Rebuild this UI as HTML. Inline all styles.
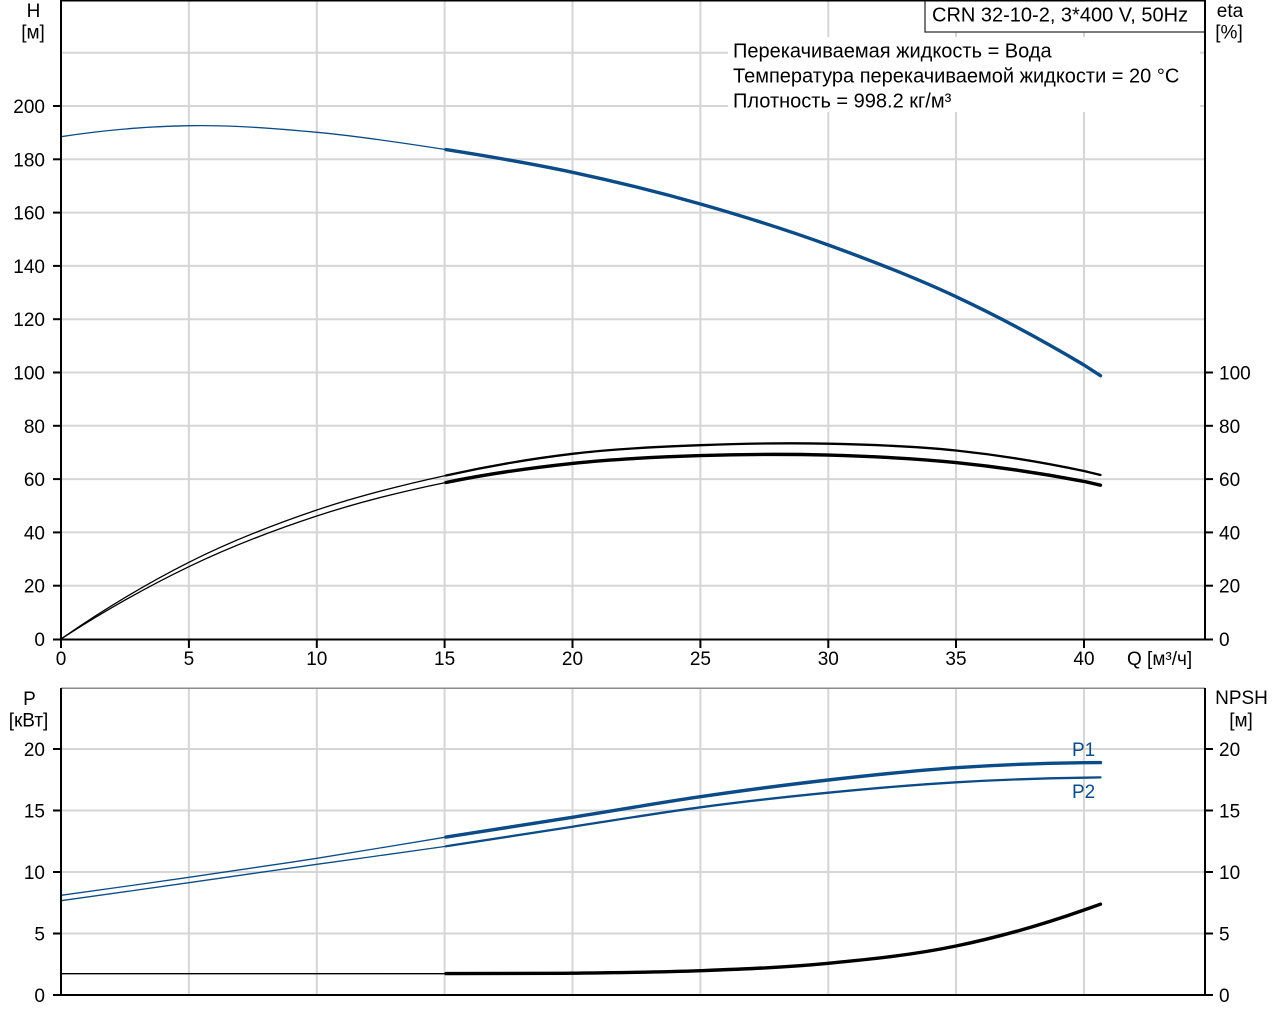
<!DOCTYPE html>
<html>
<head>
<meta charset="utf-8">
<style>
  html, body { margin: 0; padding: 0; background: #ffffff; }
  svg { display: block; }
  text { font-family: "Liberation Sans", Arial, sans-serif; fill: #000; }
</style>
</head>
<body>
<svg width="1280" height="1024" viewBox="0 0 1280 1024" xmlns="http://www.w3.org/2000/svg">
  <rect x="0" y="0" width="1280" height="1024" fill="#ffffff"/>

  <!-- ===== Gridlines top plot ===== -->
  <g stroke="#d6d6d6" stroke-width="2" fill="none">
    <line x1="61" y1="52.7" x2="1205" y2="52.7"/>
    <line x1="61" y1="106" x2="1205" y2="106"/>
    <line x1="61" y1="159.3" x2="1205" y2="159.3"/>
    <line x1="61" y1="212.6" x2="1205" y2="212.6"/>
    <line x1="61" y1="265.9" x2="1205" y2="265.9"/>
    <line x1="61" y1="319.2" x2="1205" y2="319.2"/>
    <line x1="61" y1="372.5" x2="1205" y2="372.5"/>
    <line x1="61" y1="425.8" x2="1205" y2="425.8"/>
    <line x1="61" y1="479.1" x2="1205" y2="479.1"/>
    <line x1="61" y1="532.4" x2="1205" y2="532.4"/>
    <line x1="61" y1="585.7" x2="1205" y2="585.7"/>

    <line x1="188.9" y1="0" x2="188.9" y2="639"/>
    <line x1="316.8" y1="0" x2="316.8" y2="639"/>
    <line x1="444.6" y1="0" x2="444.6" y2="639"/>
    <line x1="572.5" y1="0" x2="572.5" y2="639"/>
    <line x1="700.4" y1="0" x2="700.4" y2="639"/>
    <line x1="828.3" y1="0" x2="828.3" y2="639"/>
    <line x1="956" y1="0" x2="956" y2="639"/>
    <line x1="1084" y1="0" x2="1084" y2="639"/>
  </g>

  <!-- ===== Gridlines bottom plot ===== -->
  <g stroke="#d6d6d6" stroke-width="2" fill="none">
    <line x1="61" y1="749" x2="1205" y2="749"/>
    <line x1="61" y1="810.5" x2="1205" y2="810.5"/>
    <line x1="61" y1="872" x2="1205" y2="872"/>
    <line x1="61" y1="933.5" x2="1205" y2="933.5"/>

    <line x1="188.9" y1="688" x2="188.9" y2="995"/>
    <line x1="316.8" y1="688" x2="316.8" y2="995"/>
    <line x1="444.6" y1="688" x2="444.6" y2="995"/>
    <line x1="572.5" y1="688" x2="572.5" y2="995"/>
    <line x1="700.4" y1="688" x2="700.4" y2="995"/>
    <line x1="828.3" y1="688" x2="828.3" y2="995"/>
    <line x1="956" y1="688" x2="956" y2="995"/>
    <line x1="1084" y1="688" x2="1084" y2="995"/>
  </g>
  <line x1="61" y1="688.3" x2="1205" y2="688.3" stroke="#8a8a8a" stroke-width="1.5"/>

  <!-- ===== Info text background & title box ===== -->
  <rect x="728" y="37" width="472" height="75" fill="#ffffff"/>
  <rect x="925" y="-1" width="280" height="33" fill="#ffffff" stroke="#222" stroke-width="1.2"/>

  <!-- ===== Curves top plot ===== -->
  <g fill="none" stroke-linecap="round" stroke-linejoin="round">
    <!-- H -->
    <path d="M61,136.7 C103.6,130.1 146.3,126.4 188.9,125.7 C231.5,124.97 274.2,128.35 316.8,132.3 C359.4,136.25 402,142.73 444.6,149.4" stroke="#0b4c88" stroke-width="1.3"/>
    <path d="M446,149.6 C487.2,156.07 529.9,163.2 572.5,172.3 C615.1,181.4 657.8,191.88 700.4,204 C743,216.12 785.7,229.55 828.3,245 C870.9,260.45 913.4,276.7 956,296.7 C998.7,316.7 1041.3,339.47 1084,365 L1100.5,375.7" stroke="#0b4c88" stroke-width="3.4"/>

    <!-- eta pump (upper) -->
    <path d="M61,639 C103.6,609.37 146.3,583.8 188.9,562.3 C231.5,540.8 274.2,524.43 316.8,510 C359.4,495.57 402,485.07 444.6,475.7" stroke="#000" stroke-width="1.3"/>
    <path d="M446,475.5 C487.2,466.33 529.9,458.88 572.5,453.8 C615.1,448.72 657.8,446.88 700.4,445.2 C743,443.52 785.7,442.82 828.3,443.7 C870.9,444.58 913.4,445.95 956,450.5 C998.7,455.05 1041.3,461.88 1084,471 L1100.5,475" stroke="#000" stroke-width="2.3"/>

    <!-- eta total (lower) -->
    <path d="M61,639 C103.6,611.3 146.3,587.2 188.9,566.7 C231.5,546.2 274.2,530 316.8,516 C359.4,502 402,491.47 444.6,482.7" stroke="#000" stroke-width="1.3"/>
    <path d="M446,482.5 C487.2,473.93 529.9,467.92 572.5,463.4 C615.1,458.88 657.8,456.98 700.4,455.6 C743,454.22 785.7,453.93 828.3,455.1 C870.9,456.27 913.4,458.22 956,462.6 C998.7,466.98 1041.3,473.25 1084,481.4 L1100.5,485.2" stroke="#000" stroke-width="3.4"/>
  </g>

  <!-- ===== Curves bottom plot ===== -->
  <g fill="none" stroke-linecap="round" stroke-linejoin="round">
    <!-- P1 -->
    <path d="M61,895.3 C103.6,889.47 146.3,883.47 188.9,877.3 C231.5,871.13 274.2,864.97 316.8,858.3 C359.4,851.63 402,844.13 444.6,837.3" stroke="#0b4c88" stroke-width="1.3"/>
    <path d="M446,837.1 C487.2,830.47 529.9,824.07 572.5,817.3 C615.1,810.53 657.8,802.92 700.4,796.7 C743,790.48 785.7,784.83 828.3,780 C870.9,775.17 913.4,770.58 956,767.7 C998.7,764.82 1041.3,763.2 1084,762.7 L1100.5,762.6" stroke="#0b4c88" stroke-width="3.4"/>
    <!-- P2 -->
    <path d="M61,900.7 C103.6,894.77 146.3,888.77 188.9,882.7 C231.5,876.63 274.2,870.33 316.8,864.3 C359.4,858.27 402,852.77 444.6,846.5" stroke="#0b4c88" stroke-width="1.3"/>
    <path d="M446,846.3 C487.2,840.23 529.9,833.23 572.5,826.7 C615.1,820.17 657.8,812.97 700.4,807.3 C743,801.63 785.7,796.87 828.3,792.7 C870.9,788.53 913.4,784.8 956,782.3 C998.7,779.8 1041.3,778.27 1084,777.7 L1100.5,777.4" stroke="#0b4c88" stroke-width="2.3"/>
    <!-- NPSH -->
    <path d="M61,973.7 L444.6,973.7" stroke="#000" stroke-width="1.3"/>
    <path d="M446,973.6 C487.2,973.6 529.9,973.68 572.5,973.2 C615.1,972.72 657.8,972.35 700.4,970.7 C743,969.05 785.7,967.42 828.3,963.3 C870.9,959.18 913.4,954.88 956,946 C998.7,937.12 1041.3,925.12 1084,910 L1100.5,904.2" stroke="#000" stroke-width="3.4"/>
  </g>

  <!-- ===== Axes top plot ===== -->
  <g stroke="#000" fill="none">
    <line x1="61" y1="0.75" x2="1205" y2="0.75" stroke-width="1.5"/>
    <line x1="61" y1="0" x2="61" y2="648" stroke-width="2"/>
    <line x1="1205" y1="0" x2="1205" y2="640" stroke-width="2"/>
    <line x1="53" y1="639.5" x2="1213" y2="639.5" stroke-width="2"/>
    <!-- left ticks -->
    <g stroke-width="2">
      <line x1="53" y1="585.7" x2="61" y2="585.7"/>
      <line x1="53" y1="532.4" x2="61" y2="532.4"/>
      <line x1="53" y1="479.1" x2="61" y2="479.1"/>
      <line x1="53" y1="425.8" x2="61" y2="425.8"/>
      <line x1="53" y1="372.5" x2="61" y2="372.5"/>
      <line x1="53" y1="319.2" x2="61" y2="319.2"/>
      <line x1="53" y1="265.9" x2="61" y2="265.9"/>
      <line x1="53" y1="212.6" x2="61" y2="212.6"/>
      <line x1="53" y1="159.3" x2="61" y2="159.3"/>
      <line x1="53" y1="106" x2="61" y2="106"/>
      <!-- right ticks -->
      <line x1="1205" y1="585.7" x2="1213" y2="585.7"/>
      <line x1="1205" y1="532.4" x2="1213" y2="532.4"/>
      <line x1="1205" y1="479.1" x2="1213" y2="479.1"/>
      <line x1="1205" y1="425.8" x2="1213" y2="425.8"/>
      <line x1="1205" y1="372.5" x2="1213" y2="372.5"/>
      <!-- bottom ticks -->
      <line x1="188.9" y1="639" x2="188.9" y2="648"/>
      <line x1="316.8" y1="639" x2="316.8" y2="648"/>
      <line x1="444.6" y1="639" x2="444.6" y2="648"/>
      <line x1="572.5" y1="639" x2="572.5" y2="648"/>
      <line x1="700.4" y1="639" x2="700.4" y2="648"/>
      <line x1="828.3" y1="639" x2="828.3" y2="648"/>
      <line x1="956" y1="639" x2="956" y2="648"/>
      <line x1="1084" y1="639" x2="1084" y2="648"/>
    </g>
  </g>

  <!-- ===== Axes bottom plot ===== -->
  <g stroke="#000" fill="none" stroke-width="2">
    <line x1="61" y1="688" x2="61" y2="995"/>
    <line x1="1205" y1="688" x2="1205" y2="995"/>
    <line x1="53" y1="995" x2="1213" y2="995"/>
    <line x1="53" y1="749" x2="61" y2="749"/>
    <line x1="53" y1="810.5" x2="61" y2="810.5"/>
    <line x1="53" y1="872" x2="61" y2="872"/>
    <line x1="53" y1="933.5" x2="61" y2="933.5"/>
    <line x1="1205" y1="749" x2="1213" y2="749"/>
    <line x1="1205" y1="810.5" x2="1213" y2="810.5"/>
    <line x1="1205" y1="872" x2="1213" y2="872"/>
    <line x1="1205" y1="933.5" x2="1213" y2="933.5"/>
  </g>

  <!-- ===== Text: title & info ===== -->
  <text x="932" y="21.7" font-size="20">CRN 32-10-2, 3*400 V, 50Hz</text>
  <text x="733" y="57.5" font-size="20">Перекачиваемая жидкость = Вода</text>
  <text x="733" y="82.5" font-size="20">Температура перекачиваемой жидкости = 20 °C</text>
  <text x="733" y="107.5" font-size="20">Плотность = 998.2 кг/м³</text>

  <!-- ===== Axis titles ===== -->
  <g font-size="19" text-anchor="middle">
    <text x="33.5" y="17">H</text>
    <text x="33" y="38.5">[м]</text>
    <text x="1230" y="17">eta</text>
    <text x="1229" y="38.5">[%]</text>
    <text x="29.5" y="705">P</text>
    <text x="28.5" y="726.5">[кВт]</text>
    <text x="1241.5" y="704">NPSH</text>
    <text x="1241" y="726.5">[м]</text>
  </g>
  <text x="1127" y="665" font-size="19">Q [м³/ч]</text>

  <!-- ===== Left tick labels top ===== -->
  <g font-size="19" text-anchor="end">
    <text x="45" y="646">0</text>
    <text x="45" y="592.7">20</text>
    <text x="45" y="539.4">40</text>
    <text x="45" y="486.1">60</text>
    <text x="45" y="432.8">80</text>
    <text x="45" y="379.5">100</text>
    <text x="45" y="326.2">120</text>
    <text x="45" y="272.9">140</text>
    <text x="45" y="219.6">160</text>
    <text x="45" y="166.3">180</text>
    <text x="45" y="113">200</text>
    <!-- bottom plot left -->
    <text x="45" y="1002">0</text>
    <text x="45" y="940.5">5</text>
    <text x="45" y="879">10</text>
    <text x="45" y="817.5">15</text>
    <text x="45" y="756">20</text>
  </g>

  <!-- ===== Right tick labels ===== -->
  <g font-size="19" text-anchor="start">
    <text x="1219" y="646">0</text>
    <text x="1219" y="592.7">20</text>
    <text x="1219" y="539.4">40</text>
    <text x="1219" y="486.1">60</text>
    <text x="1219" y="432.8">80</text>
    <text x="1219" y="379.5">100</text>
    <text x="1219" y="1002">0</text>
    <text x="1219" y="940.5">5</text>
    <text x="1219" y="879">10</text>
    <text x="1219" y="817.5">15</text>
    <text x="1219" y="756">20</text>
  </g>

  <!-- ===== X tick labels ===== -->
  <g font-size="19" text-anchor="middle">
    <text x="61" y="665">0</text>
    <text x="188.9" y="665">5</text>
    <text x="316.8" y="665">10</text>
    <text x="444.6" y="665">15</text>
    <text x="572.5" y="665">20</text>
    <text x="700.4" y="665">25</text>
    <text x="828.3" y="665">30</text>
    <text x="956" y="665">35</text>
    <text x="1084" y="665">40</text>
  </g>

  <!-- ===== Curve labels ===== -->
  <text x="1072" y="756" font-size="19" style="fill:#0b4c88">P1</text>
  <text x="1072" y="798" font-size="19" style="fill:#0b4c88">P2</text>
</svg>
</body>
</html>
